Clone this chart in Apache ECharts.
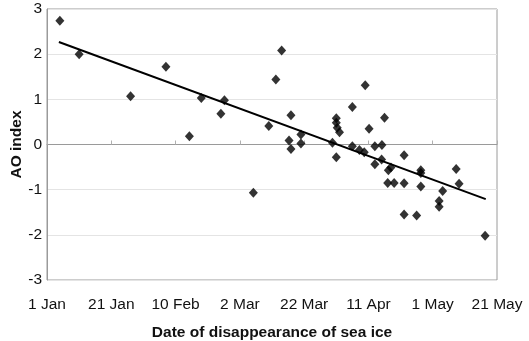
<!DOCTYPE html>
<html>
<head>
<meta charset="utf-8">
<script src="https://cdn.jsdelivr.net/npm/echarts@6/dist/echarts.min.js"></script>
<style>
  html, body {margin: 0; padding: 0; background: #fff;}
  #chart {width: 529px; height: 341px;}
</style>
</head>
<body>
<div id="chart"></div>
<script>
// day counted from 1 Jan (0 = 1 Jan)
const dayTicks = [0, 20, 40, 60, 80, 100, 120, 140];
const dayLabels = ['1 Jan', '21 Jan', '10 Feb', '2 Mar', '22 Mar', '11 Apr', '1 May', '21 May'];

const iceDays = [4, 10, 26, 37, 44.3, 48, 54.1, 55.2, 64.2, 69, 71.2, 73, 75.3, 75.9, 75.9, 79, 79,
    88.8, 90, 90, 90.3, 91, 90, 95, 95, 97.2, 98.7, 99, 100.2, 102, 104.2, 102, 104.1, 105,
    106.2, 107, 106, 108, 111.1, 111.1, 111.1, 115, 116.3, 116.3, 116.3, 122, 122, 123.1,
    127.3, 128.2, 136.3];
const aoIndex = [2.74, 2.00, 1.07, 1.72, 0.18, 1.03, 0.68, 0.98, -1.07, 0.41, 1.44, 2.08, 0.09, 0.65, -0.10, 0.22, 0.02,
    0.04, 0.58, 0.48, 0.37, 0.27, -0.28, 0.83, -0.04, -0.12, -0.17, 1.31, 0.35, -0.04, -0.01, -0.44, -0.33, 0.59,
    -0.57, -0.51, -0.85, -0.85, -0.24, -0.86, -1.55, -1.57, -0.57, -0.63, -0.93, -1.25, -1.38, -1.03,
    -0.54, -0.87, -2.02];

// trend line ends
const trendDays = [3.7, 136.5];
const trendAo = [2.27, -1.21];

const points = iceDays.map((d, i) => [d, aoIndex[i]]);
const trend = trendDays.map((d, i) => [d, trendAo[i]]);

const chart = echarts.init(document.getElementById('chart'));
const font = 'Liberation Sans, Arial, sans-serif';

chart.setOption({
    animation: false,
    grid: {
        left: 47,
        right: 32,
        top: 9,
        bottom: 61,
        outerBoundsMode: 'none',
        containLabel: false,
        show: true,
        borderColor: '#9a9a9a',
        borderWidth: 1
    },
    xAxis: {
        type: 'value',
        min: 0,
        max: 140,
        interval: 20,
        name: 'Date of disappearance of sea ice',
        nameLocation: 'middle',
        nameGap: 45,
        nameMoveOverlap: false,
        nameTextStyle: {fontFamily: font, fontSize: 15.5, fontWeight: 'bold', color: '#111'},
        axisLine: {lineStyle: {color: '#9a9a9a'}},
        axisTick: {show: true, inside: true, length: 4, lineStyle: {color: '#b0b0b0'}},
        axisLabel: {
            fontFamily: font, fontSize: 15.5, color: '#111', margin: 17,
            formatter: v => dayLabels[dayTicks.indexOf(v)]
        },
        splitLine: {show: false}
    },
    yAxis: {
        type: 'value',
        min: -3,
        max: 3,
        interval: 1,
        name: 'AO index',
        nameLocation: 'middle',
        nameGap: 22,
        nameRotate: 90,
        nameMoveOverlap: false,
        nameTextStyle: {fontFamily: font, fontSize: 15.5, fontWeight: 'bold', color: '#111'},
        axisLine: {show: true, lineStyle: {color: '#9a9a9a'}},
        axisTick: {show: false},
        axisLabel: {fontFamily: font, fontSize: 15.5, color: '#111', margin: 5},
        splitLine: {show: true, lineStyle: {color: '#e4e4e4'}}
    },
    series: [
        {
            type: 'scatter',
            symbol: 'diamond',
            symbolSize: [9, 10],
            itemStyle: {color: '#000'},
            data: points,
            z: 3
        },
        {
            type: 'line',
            symbol: 'none',
            lineStyle: {color: '#000', width: 2},
            data: trend,
            z: 2
        }
    ]
});
</script>
</body>
</html>
